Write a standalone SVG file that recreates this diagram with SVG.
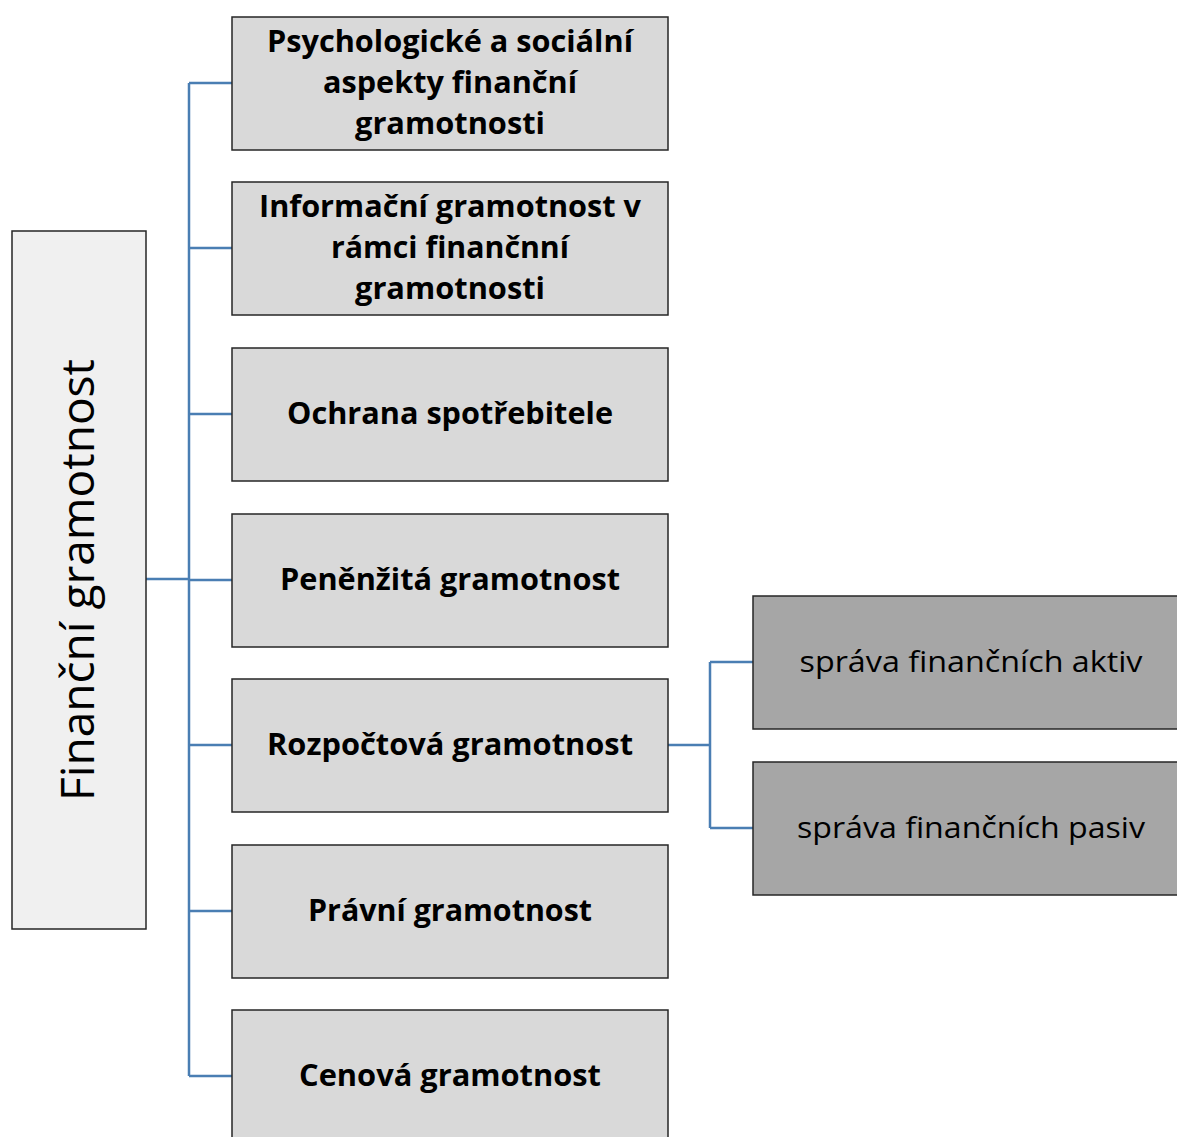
<svg xmlns="http://www.w3.org/2000/svg" width="1177" height="1137" viewBox="0 0 1177 1137">
<style>
.root{fill:#f0f0f0;stroke:#262626;stroke-width:1.5}
.mid{fill:#d9d9d9;stroke:#262626;stroke-width:1.5}
.sub{fill:#a6a6a6;stroke:#262626;stroke-width:1.5}
.c{fill:none;stroke:#4a7eb3;stroke-width:2.5}
.b{font-family:"Open Sans","Liberation Sans",sans-serif;font-weight:bold;font-size:30px;fill:#000;text-anchor:middle}
.r{font-family:"Open Sans","Liberation Sans",sans-serif;font-size:30px;fill:#000;text-anchor:middle}
.v{font-family:"Open Sans","Liberation Sans",sans-serif;font-size:45px;fill:#000;text-anchor:middle}
</style>
<rect width="1177" height="1137" fill="#fff"/>
<g id="connectors">
<path class="c" d="M146 579H189M189 83V1076M189 83H232M189 248H232M189 414H232M189 580H232M189 745H232M189 911H232M189 1076H232"/>
<path class="c" d="M668 745H710M710 662V828M710 662H753M710 828H753"/>
</g>
<g id="root"><rect class="root" x="12" y="231" width="134" height="698"/><text class="v" transform="translate(94 580) rotate(-90)" textLength="442" lengthAdjust="spacingAndGlyphs">Finanční gramotnost</text></g>
<g id="n1"><rect class="mid" x="232" y="17" width="436" height="133"/><text class="b" x="450" y="52" textLength="366" lengthAdjust="spacingAndGlyphs">Psychologické a sociální</text><text class="b" x="450" y="93" textLength="254" lengthAdjust="spacingAndGlyphs">aspekty finanční</text><text class="b" x="450" y="134" textLength="190" lengthAdjust="spacingAndGlyphs">gramotnosti</text></g>
<g id="n2"><rect class="mid" x="232" y="182" width="436" height="133"/><text class="b" x="450" y="217" textLength="382" lengthAdjust="spacingAndGlyphs">Informační gramotnost v</text><text class="b" x="450" y="258" textLength="238" lengthAdjust="spacingAndGlyphs">rámci finančnní</text><text class="b" x="450" y="299" textLength="190" lengthAdjust="spacingAndGlyphs">gramotnosti</text></g>
<g id="n3"><rect class="mid" x="232" y="348" width="436" height="133"/><text class="b" x="450" y="424" textLength="326" lengthAdjust="spacingAndGlyphs">Ochrana spotřebitele</text></g>
<g id="n4"><rect class="mid" x="232" y="514" width="436" height="133"/><text class="b" x="450" y="590" textLength="340" lengthAdjust="spacingAndGlyphs">Peněnžitá gramotnost</text></g>
<g id="n5"><rect class="mid" x="232" y="679" width="436" height="133"/><text class="b" x="450" y="755" textLength="366" lengthAdjust="spacingAndGlyphs">Rozpočtová gramotnost</text></g>
<g id="n6"><rect class="mid" x="232" y="845" width="436" height="133"/><text class="b" x="450" y="921" textLength="284" lengthAdjust="spacingAndGlyphs">Právní gramotnost</text></g>
<g id="n7"><rect class="mid" x="232" y="1010" width="436" height="133"/><text class="b" x="450" y="1086" textLength="302" lengthAdjust="spacingAndGlyphs">Cenová gramotnost</text></g>
<g id="s1"><rect class="sub" x="753" y="596" width="430" height="133"/><text class="r" x="971" y="672" textLength="343" lengthAdjust="spacingAndGlyphs">správa finančních aktiv</text></g>
<g id="s2"><rect class="sub" x="753" y="762" width="430" height="133"/><text class="r" x="971" y="838" textLength="348" lengthAdjust="spacingAndGlyphs">správa finančních pasiv</text></g>
</svg>
